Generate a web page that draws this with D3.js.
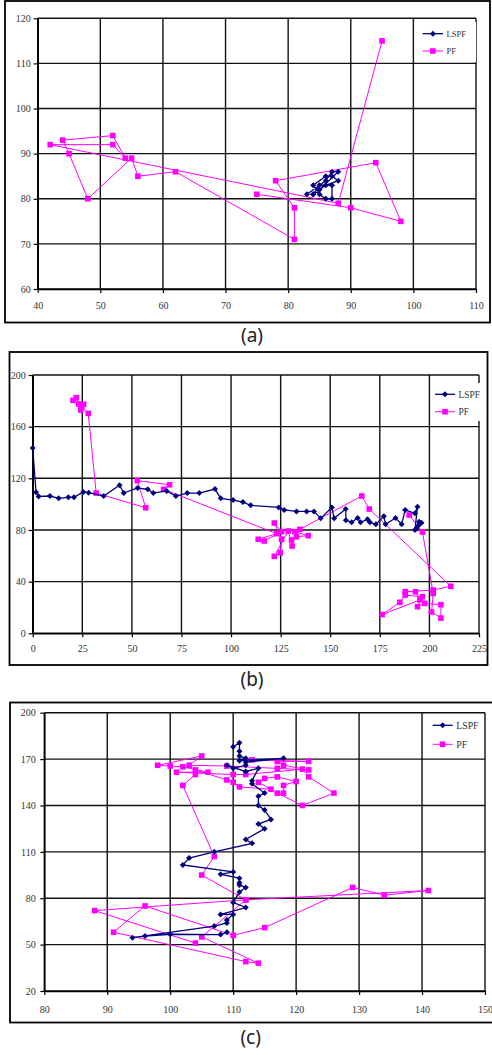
<html>
  <head>
    <meta charset="utf-8" />
    <title>LSPF vs PF tracking</title>
    <script src="https://cdnjs.cloudflare.com/ajax/libs/d3/7.8.5/d3.min.js"></script>
  </head>

  <style>
    html,
    body {
      margin: 0;
      padding: 0;
      background: #fff;
    }
    svg {
      display: block;
    }
    .tick text {
      font-family: "Liberation Serif", "Times New Roman", serif;
      fill: #333;
    }
    .legtext {
      font-family: "Liberation Serif", "Times New Roman", serif;
      fill: #333;
    }
    .caption {
      font-family: "Noto Sans", "DejaVu Sans", sans-serif;
      fill: #222;
    }
  </style>

  <body>
    <svg width="492" height="1055" id="mainsvg"></svg>
    <script>
      const seriesNames = ["LSPF", "PF"];

      // ----- panel (a)
      const aXTicks = [40, 50, 60, 70, 80, 90, 100, 110];
      const aYTicks = [60, 70, 80, 90, 100, 110, 120];
      const lspfA = [
        [83, 81], [86, 84], [87, 86], [88, 86], [85, 82], [84, 81], [86, 83],
        [88, 84], [87, 85], [86, 85], [84, 83], [85, 81], [86, 80], [87, 80],
        [87, 83], [85, 83], [84, 81],
      ];
      const pfA = [
        [75, 81], [90, 78], [98, 75], [94, 88], [78, 84], [81, 78], [81, 71],
        [62, 86], [56, 85], [55, 89], [48, 80], [45, 90], [44, 93], [52, 94],
        [54, 89], [52, 92], [42, 92], [88, 79], [95, 115],
      ];

      // ----- panel (b)
      const bXTicks = [0, 25, 50, 75, 100, 125, 150, 175, 200, 225];
      const bYTicks = [0, 40, 80, 120, 160, 200];
      const lspfB = [
        [0, 143.5], [1.7, 109.2], [3, 106], [8.7, 106.3], [13.1, 104.5], [18, 105.3],
        [20.8, 105.3], [25.5, 109.4], [28.2, 108.9], [35.8, 106.3], [43.8, 114.6],
        [45.9, 108.6], [52.9, 112.5], [58, 111.5], [60.8, 108.6], [67.5, 110.2],
        [72.2, 106.3], [77.9, 108.6], [84, 108.6], [91.9, 111.7], [94.8, 104.5],
        [101, 103.2], [106, 101.6], [109.9, 99.1], [124, 97.5], [126.8, 95.5],
        [133, 94.4], [138.1, 94.4], [141.8, 94.4], [145.2, 89], [150.8, 97.5],
        [152, 89], [157.8, 96.2], [157.9, 87.5], [160.8, 85.9], [163.8, 89.3],
        [165.3, 85.9], [168.8, 88.3], [170, 85.9], [173, 84.4], [177, 90.6],
        [177.9, 84.4], [182.9, 89.3], [186, 84.4], [187.8, 95.5], [192.7, 92.9],
        [194, 98], [192.7, 80], [194.3, 83.1], [195.2, 85.2], [196, 85.6],
        [194.8, 86.4], [193.5, 81.3],
      ];
      const pfB = [
        [20.3, 180.4], [22, 182.4], [23.2, 177.5], [24.2, 172.9], [25.7, 177.3],
        [24.7, 175], [28, 170.3], [32, 108.6], [57, 97.2], [52.7, 118.2], [69, 115],
        [66, 111.5], [123, 77.1], [113.7, 72.8], [116.7, 71.5], [125.5, 78.7],
        [121.8, 85.4], [125.5, 72.8], [124.8, 62.4], [121.8, 59.6], [128.8, 79.2],
        [130.8, 67.6], [130.5, 72.2], [133, 74.8], [138.9, 75.6], [132.2, 78.7],
        [134.7, 80.5], [165.9, 106.3], [169.7, 96.2], [210.8, 36.4], [201.9, 33.5],
        [187.8, 32.2], [193, 32.2], [195.2, 25.8], [176.2, 14.5], [185.1, 24],
        [187.8, 29.6], [196.5, 28.3], [194, 20.6], [197.7, 23.2], [205.8, 22.1],
        [205.8, 11.8], [201.1, 16.5], [201.9, 30.9], [196.5, 78.4], [189.8, 91.6],
      ];

      // ----- panel (c)
      const cXTicks = [80, 90, 100, 110, 120, 130, 140, 150];
      const cYTicks = [20, 50, 80, 110, 140, 170, 200];
      const lspfC = [
        [110, 178], [111, 180.5], [111, 175], [111, 172], [112, 170.5], [111, 169],
        [118, 170.5], [112, 168], [112, 166], [110, 164], [109, 166], [112, 162],
        [114, 164], [113, 156], [113, 154], [115, 148], [114, 146], [114, 140],
        [115, 137], [116, 131], [114, 128], [115, 125], [112, 118], [113, 115.5],
        [107, 110], [103, 106], [102, 101.5], [110, 97], [108, 95.5], [111, 93],
        [111, 90], [111, 88.5], [112, 87], [111, 84], [110, 77.3], [112, 74],
        [108, 69.5], [110, 69.5], [109, 66], [109, 64], [107, 62], [94, 54.5],
        [96, 55.5], [100, 56.7], [108, 56.5], [109, 58],
      ];
      const pfC = [
        [113, 169.5], [122, 168.5], [117, 168.5], [118, 166], [122, 163], [117, 164],
        [109, 165.5], [103, 166], [105, 172], [98, 166], [100, 165.5], [102, 165],
        [106, 161.5], [101, 161.5], [110, 160], [112, 160], [121, 163.5],
        [122, 158.5], [126, 148], [121, 140], [117, 148], [118, 148], [118, 153],
        [120, 155.5], [117, 158.5], [115, 157.5], [114, 155], [116, 150.5],
        [111, 152], [110, 155], [109, 156.5], [104, 163], [104, 160], [102, 153],
        [107, 107], [105, 95], [112, 79], [141, 85], [134, 82], [129, 87], [115, 61],
        [110, 56], [96, 75], [91, 58], [112, 39], [114, 38], [105, 55], [112, 79],
        [88, 72], [104, 51],
      ];

      const svg = d3.select("#mainsvg");

      const panels = [
        {
          caption: "(a)", capX: 252, capY: 335,
          box: { x: 5, y: 1, w: 485, h: 321.5 },
          inner: { left: 37.7, right: 476, top: 18.3, bottom: 289 },
          xTicks: aXTicks, yTicks: aYTicks, lspf: lspfA, pf: pfA,
          yPad: 3, xPad: 8.5,
          leg: { x: 422.7, y: 33.7, gap: 17.3, len: 20.3, fs: 8.6, bg: [418, 22, 58, 40] },
        },
        {
          caption: "(b)", capX: 252, capY: 679,
          box: { x: 9.5, y: 352, w: 478, h: 313 },
          inner: { left: 32.7, right: 479, top: 375, bottom: 633.3 },
          xTicks: bXTicks, yTicks: bYTicks, lspf: lspfB, pf: pfB,
          yPad: 3, xPad: 8,
          leg: { x: 435, y: 394.3, gap: 17.4, len: 20, fs: 9.4, bg: [431, 383, 52, 38] },
        },
        {
          caption: "(c)", capX: 250.7, capY: 1037,
          box: { x: 10, y: 702.5, w: 495, h: 320 },
          inner: { left: 44.3, right: 485, top: 712.7, bottom: 991 },
          xTicks: cXTicks, yTicks: cYTicks, lspf: lspfC, pf: pfC,
          yPad: 4.6, xPad: 10.5,
          leg: { x: 432.7, y: 725.3, gap: 19, len: 20, fs: 9.8, bg: [428, 714, 52, 42] },
        },
      ];

      const diamond = (r) => `M0,${-r}L${r},0L0,${r}L${-r},0Z`;

      function drawPanel(p) {
        const g = svg.append("g");
        const xScale = d3
          .scaleLinear()
          .domain(d3.extent(p.xTicks))
          .range([p.inner.left, p.inner.right]);
        const yScale = d3
          .scaleLinear()
          .domain(d3.extent(p.yTicks))
          .range([p.inner.bottom, p.inner.top]);

        // panel frame
        g.append("rect")
          .attr("x", p.box.x)
          .attr("y", p.box.y)
          .attr("width", p.box.w)
          .attr("height", p.box.h)
          .attr("fill", "none")
          .attr("stroke", "#000")
          .attr("stroke-width", 1.8);

        // grid
        g.selectAll(".vgrid")
          .data(p.xTicks)
          .join("line")
          .attr("x1", (d) => xScale(d))
          .attr("x2", (d) => xScale(d))
          .attr("y1", p.inner.top)
          .attr("y2", p.inner.bottom)
          .attr("stroke", "#111")
          .attr("stroke-width", 1.4);
        g.selectAll(".hgrid")
          .data(p.yTicks)
          .join("line")
          .attr("x1", p.inner.left)
          .attr("x2", p.inner.right)
          .attr("y1", (d) => yScale(d))
          .attr("y2", (d) => yScale(d))
          .attr("stroke", "#111")
          .attr("stroke-width", 1.4);

        // axes
        const xAxisGroup = g
          .append("g")
          .attr("transform", `translate(0, ${p.inner.bottom})`)
          .call(
            d3.axisBottom(xScale).tickValues(p.xTicks).tickSize(4).tickSizeOuter(0).tickPadding(p.xPad)
          );
        const yAxisGroup = g
          .append("g")
          .attr("transform", `translate(${p.inner.left}, 0)`)
          .call(
            d3.axisLeft(yScale).tickValues(p.yTicks).tickSize(4).tickSizeOuter(0).tickPadding(p.yPad)
          );
        [xAxisGroup, yAxisGroup].forEach((ax) => {
          ax.selectAll("text").attr("font-size", 10);
          ax.select(".domain").attr("stroke", "#000").attr("stroke-width", 1.6);
          ax.selectAll(".tick line").attr("stroke", "#000").attr("stroke-width", 1.2);
        });

        // series
        const line = d3
          .line()
          .x((d) => xScale(d[0]))
          .y((d) => yScale(d[1]));

        g.append("path")
          .datum(p.pf)
          .attr("d", line)
          .attr("fill", "none")
          .attr("stroke", "#ff00ff")
          .attr("stroke-width", 1);
        g.selectAll(".pfpt")
          .data(p.pf)
          .join("rect")
          .attr("class", "pfpt")
          .attr("x", (d) => xScale(d[0]) - 2.8)
          .attr("y", (d) => yScale(d[1]) - 2.8)
          .attr("width", 5.6)
          .attr("height", 5.6)
          .attr("fill", "#ff00ff");

        g.append("path")
          .datum(p.lspf)
          .attr("d", line)
          .attr("fill", "none")
          .attr("stroke", "#000080")
          .attr("stroke-width", 1.3);
        g.selectAll(".lspfpt")
          .data(p.lspf)
          .join("path")
          .attr("class", "lspfpt")
          .attr("transform", (d) => `translate(${xScale(d[0])}, ${yScale(d[1])})`)
          .attr("d", diamond(3))
          .attr("fill", "#000080");

        // legend
        const L = p.leg;
        g.append("rect")
          .attr("x", L.bg[0])
          .attr("y", L.bg[1])
          .attr("width", L.bg[2])
          .attr("height", L.bg[3])
          .attr("fill", "#fff");
        const legs = g
          .selectAll(".leg")
          .data(seriesNames)
          .join("g")
          .attr("class", "leg")
          .attr("transform", (d, i) => `translate(${L.x}, ${L.y + i * L.gap})`);
        legs.append("line")
          .attr("x1", 0)
          .attr("x2", L.len)
          .attr("stroke", (d, i) => (i === 0 ? "#000080" : "#ff00ff"))
          .attr("stroke-width", (d, i) => (i === 0 ? 1.3 : 1));
        legs.append("path")
          .attr("transform", `translate(${L.len / 2}, 0)`)
          .attr("d", (d, i) => (i === 0 ? diamond(3) : "M-2.8,-2.8h5.6v5.6h-5.6Z"))
          .attr("fill", (d, i) => (i === 0 ? "#000080" : "#ff00ff"));
        legs.append("text")
          .attr("class", "legtext")
          .attr("x", L.len + 3.5)
          .attr("dy", "0.35em")
          .attr("font-size", L.fs)
          .text((d) => d);

        // caption
        g.append("text")
          .attr("class", "caption")
          .attr("x", p.capX)
          .attr("y", p.capY)
          .attr("text-anchor", "middle")
          .attr("dominant-baseline", "central")
          .attr("font-size", 19)
          .text(p.caption);
      }

      panels.forEach(drawPanel);
    </script>
  </body>
</html>
